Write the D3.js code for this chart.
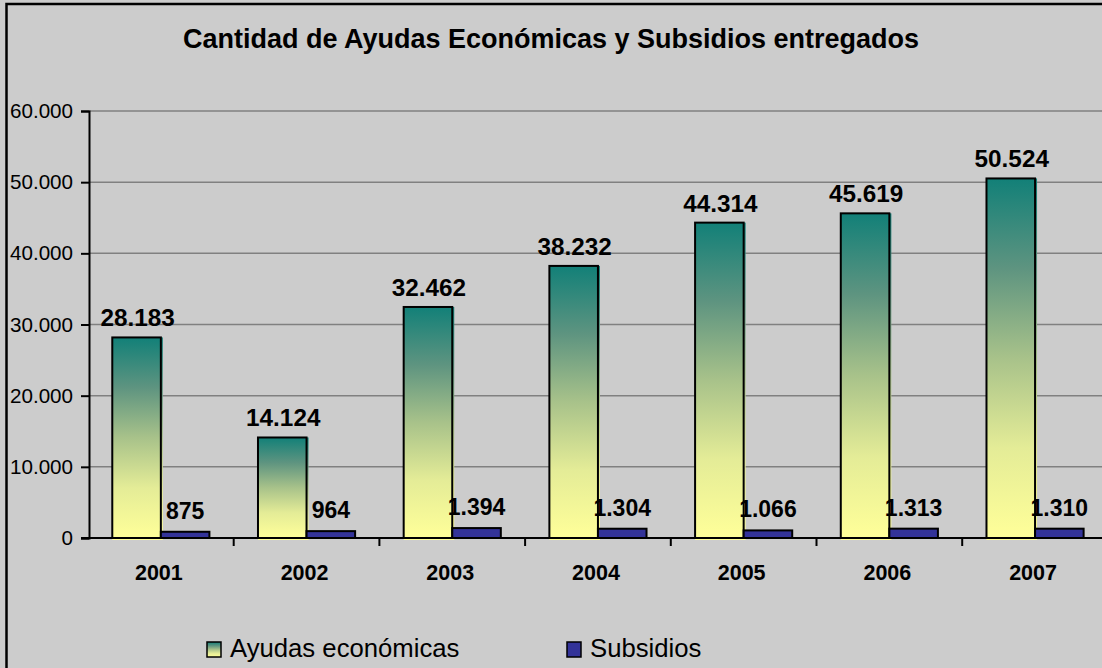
<!DOCTYPE html>
<html>
<head>
<meta charset="utf-8">
<script src="https://cdn.jsdelivr.net/npm/d3@7"></script>
<style>
  html, body { margin: 0; padding: 0; background: #cccccc; }
  svg { display: block; font-family: "Liberation Sans", Arial, sans-serif; }
</style>
</head>
<body>
<div id="chart"></div>
<script>
// datos
const years = ['2001', '2002', '2003', '2004', '2005', '2006', '2007'];
const ayudas = [28183, 14124, 32462, 38232, 44314, 45619, 50524];
const subsidios = [875, 964, 1394, 1304, 1066, 1313, 1310];
const yTicks = [0, 10000, 20000, 30000, 40000, 50000, 60000];
const seriesNames = ['Ayudas económicas', 'Subsidios'];

const width = 1102;
const height = 668;

const locale = d3.formatLocale({ decimal: ',', thousands: '.', grouping: [3], currency: ['', ''] });
const fmt = locale.format(',d');

const svg = d3.select('#chart').append('svg')
  .attr('width', width).attr('height', height);

// gradiente teal -> amarillo
const defs = svg.append('defs');
const grad = defs.append('linearGradient')
  .attr('id', 'gAyudas')
  .attr('x1', 0).attr('y1', 0).attr('x2', 0).attr('y2', 1);
[[0, '#128078'], [0.25, '#5e9480'], [0.5, '#a8c28a'], [0.75, '#e4ec97'], [1, '#ffff99']]
  .forEach(s => grad.append('stop').attr('offset', s[0]).attr('stop-color', s[1]));

// fondo y borde
svg.append('rect').attr('width', width).attr('height', height).attr('fill', '#cccccc');
svg.append('rect')
  .attr('x', 6.5).attr('y', 4).attr('width', 1300).attr('height', 900)
  .attr('fill', 'none').attr('stroke', '#000').attr('stroke-width', 2.5);

// título
svg.append('text')
  .attr('x', 551).attr('y', 48)
  .attr('text-anchor', 'middle')
  .attr('font-size', 27).attr('font-weight', 'bold')
  .text('Cantidad de Ayudas Económicas y Subsidios entregados');

const x0 = 88;
const bandW = 145.7;
const x = d3.scaleBand().domain(years).range([x0, x0 + bandW * years.length]);
const y = d3.scaleLinear().domain([0, 60000]).range([538, 111]);

const barW = x.bandwidth() / 3;
const barOff = x.bandwidth() / 6;

// grid
svg.append('g')
  .selectAll('line').data(yTicks.slice(1))
  .enter().append('line')
  .attr('x1', 89).attr('x2', width)
  .attr('y1', d => y(d)).attr('y2', d => y(d))
  .attr('stroke', '#808080').attr('stroke-width', 1.5);

// eje y
const yAxis = svg.append('g')
  .attr('transform', 'translate(89,0)')
  .call(d3.axisLeft(y).tickValues(yTicks).tickFormat(fmt).tickSize(8).tickPadding(8));
yAxis.select('.domain').attr('stroke', '#000').attr('stroke-width', 2);
yAxis.selectAll('.tick line').attr('stroke', '#000').attr('stroke-width', 2);
yAxis.selectAll('.tick text')
  .attr('font-size', 20.6).attr('fill', '#000')
  .attr('font-family', '"Liberation Sans", Arial, sans-serif');

// barras ayudas (con un pequeño desplazamiento, como en el original)
const gA = svg.append('g');
gA.selectAll('rect.sh').data(ayudas)
  .enter().append('rect')
  .attr('class', 'sh')
  .attr('x', (d, i) => x(years[i]) + barOff)
  .attr('y', d => y(d))
  .attr('width', barW + 2)
  .attr('height', d => y(0) - y(d) + 2)
  .attr('fill', 'url(#gAyudas)');
gA.selectAll('rect.bar').data(ayudas)
  .enter().append('rect')
  .attr('class', 'bar')
  .attr('x', (d, i) => x(years[i]) + barOff)
  .attr('y', d => y(d))
  .attr('width', barW)
  .attr('height', d => y(0) - y(d))
  .attr('fill', 'url(#gAyudas)')
  .attr('stroke', '#000').attr('stroke-width', 2);

// barras subsidios
svg.append('g')
  .selectAll('rect').data(subsidios)
  .enter().append('rect')
  .attr('x', (d, i) => x(years[i]) + barOff + barW)
  .attr('y', d => y(d))
  .attr('width', barW)
  .attr('height', d => y(0) - y(d))
  .attr('fill', '#333399')
  .attr('stroke', '#000').attr('stroke-width', 2);

// eje x
svg.append('line')
  .attr('x1', 81).attr('x2', width)
  .attr('y1', y(0)).attr('y2', y(0))
  .attr('stroke', '#000').attr('stroke-width', 2);
svg.append('g')
  .selectAll('line').data(years.slice(1))
  .enter().append('line')
  .attr('x1', d => x(d)).attr('x2', d => x(d))
  .attr('y1', y(0)).attr('y2', y(0) + 8)
  .attr('stroke', '#000').attr('stroke-width', 2);
svg.append('g')
  .selectAll('text').data(years)
  .enter().append('text')
  .attr('x', d => x(d) + x.bandwidth() / 2 - 2)
  .attr('y', 580)
  .attr('text-anchor', 'middle')
  .attr('font-size', 21.5).attr('font-weight', 'bold')
  .text(d => d);

// etiquetas de datos
svg.append('g')
  .selectAll('text').data(ayudas)
  .enter().append('text')
  .attr('x', (d, i) => x(years[i]) + barOff + barW / 2 + 1)
  .attr('y', d => y(d) - 11)
  .attr('text-anchor', 'middle')
  .attr('font-size', 24.3).attr('font-weight', 'bold')
  .text(d => fmt(d));
svg.append('g')
  .selectAll('text').data(subsidios)
  .enter().append('text')
  .attr('x', (d, i) => x(years[i]) + barOff + barW * 1.5)
  .attr('y', d => y(d) - 13)
  .attr('text-anchor', 'middle')
  .attr('font-size', 23).attr('font-weight', 'bold')
  .text(d => fmt(d));

// leyenda
const legend = svg.append('g');
const legX = [207, 567];
legend.selectAll('rect').data(seriesNames)
  .enter().append('rect')
  .attr('x', (d, i) => legX[i]).attr('y', 642)
  .attr('width', 14).attr('height', 15)
  .attr('fill', (d, i) => i === 0 ? 'url(#gAyudas)' : '#333399')
  .attr('stroke', '#000').attr('stroke-width', 1.5);
legend.selectAll('text').data(seriesNames)
  .enter().append('text')
  .attr('x', (d, i) => legX[i] + 23).attr('y', 657)
  .attr('font-size', 25.7)
  .text(d => d);
</script>
</body>
</html>
